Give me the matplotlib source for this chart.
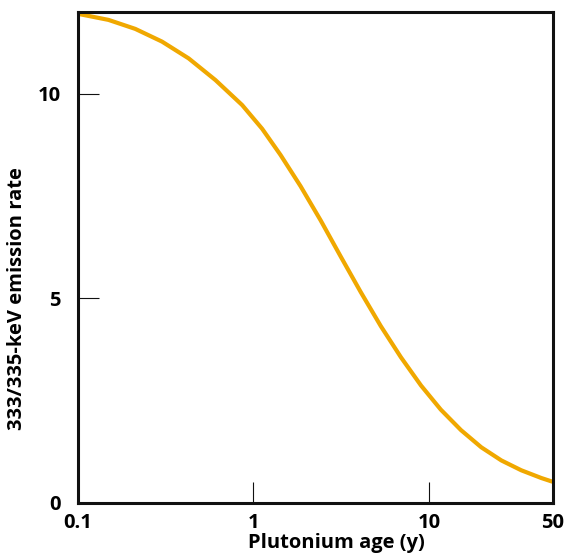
import matplotlib
matplotlib.use("Agg")
import matplotlib.pyplot as plt
from matplotlib.ticker import FixedLocator, FixedFormatter, NullLocator

plt.rcParams['font.family'] = ['Open Sans', 'DejaVu Sans']

# Data
age_years = [0.1, 0.15, 0.213, 0.302, 0.428, 0.608, 0.862, 1.12, 1.425, 1.85,
             2.41, 3.13, 4.07, 5.29, 6.88, 8.95, 11.6, 15.1, 19.7, 25.6, 33.2, 43.2, 50]
emission_rate = [11.95, 11.80, 11.58, 11.27, 10.86, 10.33, 9.72, 9.14, 8.50, 7.74,
                 6.90, 6.02, 5.15, 4.32, 3.56, 2.87, 2.28, 1.78, 1.36, 1.04, 0.80, 0.61, 0.52]

x_ticks = [0.1, 1, 10, 50]
x_tick_labels = ["0.1", "1", "10", "50"]
y_ticks = [0, 5, 10]
y_tick_labels = ["0", "5", "10"]

W, H = 566, 554
L, R, B, T = 77.5, 552.5, 503.0, 11.7

fig = plt.figure(figsize=(W / 100, H / 100), dpi=100)
ax = fig.add_axes([L / W, (H - B) / H, (R - L) / W, (B - T) / H])

ax.plot(age_years, emission_rate, color='#F0A800', lw=3.0,
        solid_capstyle='butt', solid_joinstyle='round')

ax.set_xscale('log')
ax.set_xlim(0.1, 50)
ax.set_ylim(0, 12)

ax.xaxis.set_major_locator(FixedLocator(x_ticks))
ax.xaxis.set_major_formatter(FixedFormatter(x_tick_labels))
ax.xaxis.set_minor_locator(NullLocator())
ax.yaxis.set_major_locator(FixedLocator(y_ticks))
ax.yaxis.set_major_formatter(FixedFormatter(y_tick_labels))

for s in ax.spines.values():
    s.set_linewidth(2.2)
    s.set_color('#111111')

ax.tick_params(axis='both', direction='in', length=15, width=0.8, color='#111111',
               labelsize=14.5)
ax.tick_params(axis='x', pad=7)
ax.tick_params(axis='y', pad=12)
for lab in ax.get_xticklabels() + ax.get_yticklabels():
    lab.set_fontweight('bold')

fig.text(336 / W, (H - 548) / H, "Plutonium age (y)", fontsize=14.5,
         fontweight='bold', ha='center', va='baseline')
fig.text(17 / W, (H - 299) / H, "333/335-keV emission rate", fontsize=14.5,
         fontweight='bold', ha='center', va='center', rotation=90)

fig.savefig("out.png", dpi=100)
